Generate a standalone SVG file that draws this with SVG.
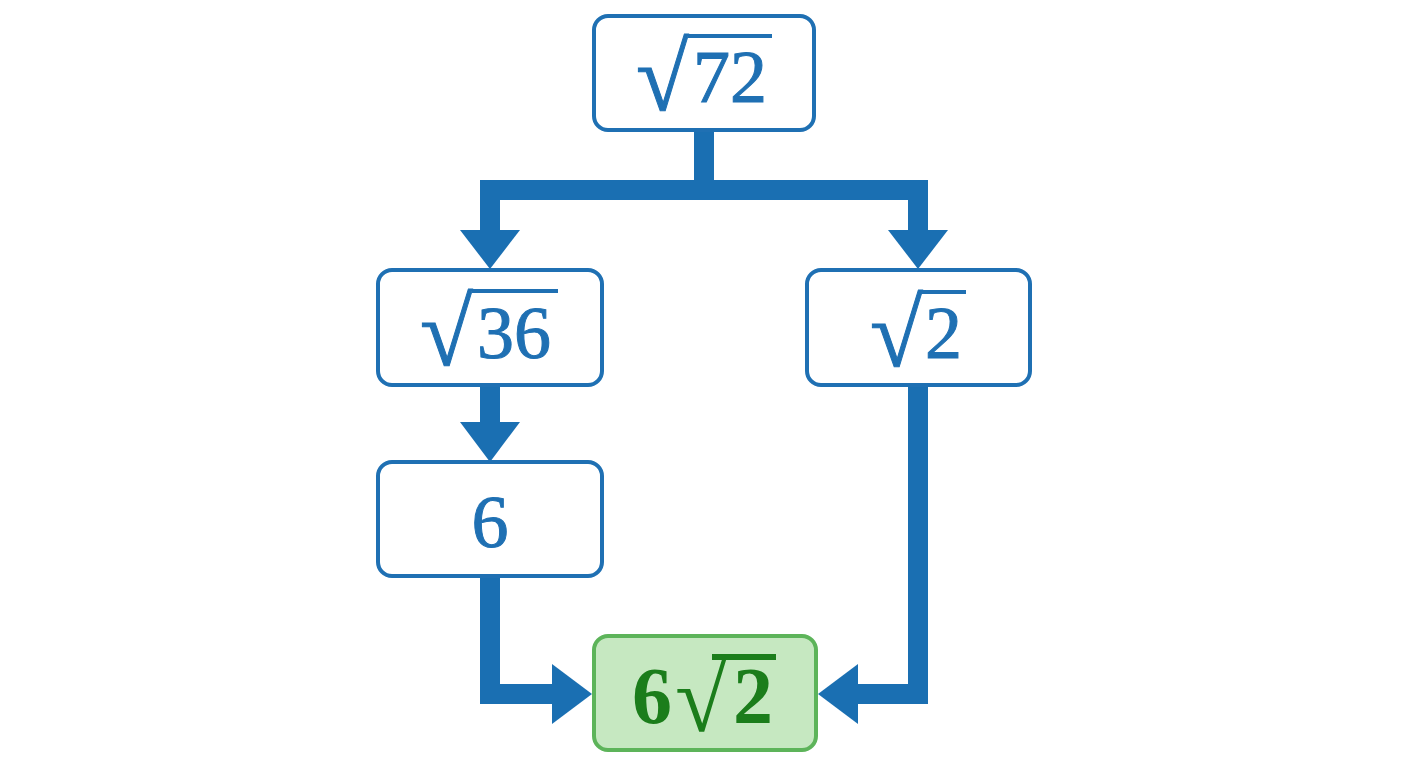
<svg xmlns="http://www.w3.org/2000/svg" width="1408" height="768" viewBox="0 0 1408 768">
<style>
.box{fill:#ffffff;stroke:#1f70b3;stroke-width:4}
.res{fill:#c6e8c1;stroke:#5db45a;stroke-width:4}
.t{font-family:"Liberation Serif","DejaVu Serif",serif;font-size:74px;fill:#1f70b3;stroke:#1f70b3;stroke-width:1}
.r{font-size:96px}
.tr{font-family:"Liberation Serif","DejaVu Serif",serif;font-size:80px;font-weight:bold;fill:#1b7d1b}
.vin{stroke:#1f70b3;stroke-width:4}
.ving{stroke:#1b7d1b;stroke-width:6}
.c{fill:none;stroke:#1a6fb2;stroke-width:20}
.ah{fill:#1a6fb2}
</style>
<rect width="1408" height="768" fill="#ffffff"/>
<g id="connectors">
<path class="c" d="M704 130 V190 M490 230 V190 H918 V230"/>
<polygon class="ah" points="460,230 520,230 490,269"/>
<polygon class="ah" points="888,230 948,230 918,269"/>
<path class="c" d="M490 385 V424"/>
<polygon class="ah" points="460,422 520,422 490,462"/>
<path class="c" d="M490 576 V694 H554"/>
<polygon class="ah" points="552,664 552,724 592,694"/>
<path class="c" d="M918 385 V694 H856"/>
<polygon class="ah" points="858,664 858,724 818,694"/>
</g>
<g id="n72">
<rect class="box" x="594" y="16" width="220" height="114" rx="14"/>
<text class="t"><tspan class="r" x="636" y="110">√</tspan><tspan x="693" y="102">72</tspan></text>
<line class="vin" x1="688" y1="36" x2="772" y2="36"/>
</g>
<g id="n36">
<rect class="box" x="378" y="270" width="224" height="115" rx="14"/>
<text class="t"><tspan class="r" x="420" y="365">√</tspan><tspan x="477" y="358">36</tspan></text>
<line class="vin" x1="472" y1="291" x2="558" y2="291"/>
</g>
<g id="n2">
<rect class="box" x="807" y="270" width="223" height="115" rx="14"/>
<text class="t"><tspan class="r" x="870" y="366">√</tspan><tspan x="925" y="358">2</tspan></text>
<line class="vin" x1="920" y1="292" x2="966" y2="292"/>
</g>
<g id="n6">
<rect class="box" x="378" y="462" width="224" height="114" rx="14"/>
<text class="t" x="490" y="547" text-anchor="middle" font-size="76">6</text>
</g>
<g id="res">
<rect class="res" x="594" y="636" width="222" height="114" rx="14"/>
<text class="tr"><tspan x="632" y="723">6</tspan><tspan x="675" y="731" font-size="96">√</tspan><tspan x="733" y="723">2</tspan></text>
<line class="ving" x1="712" y1="657" x2="776" y2="657"/>
</g>
</svg>
